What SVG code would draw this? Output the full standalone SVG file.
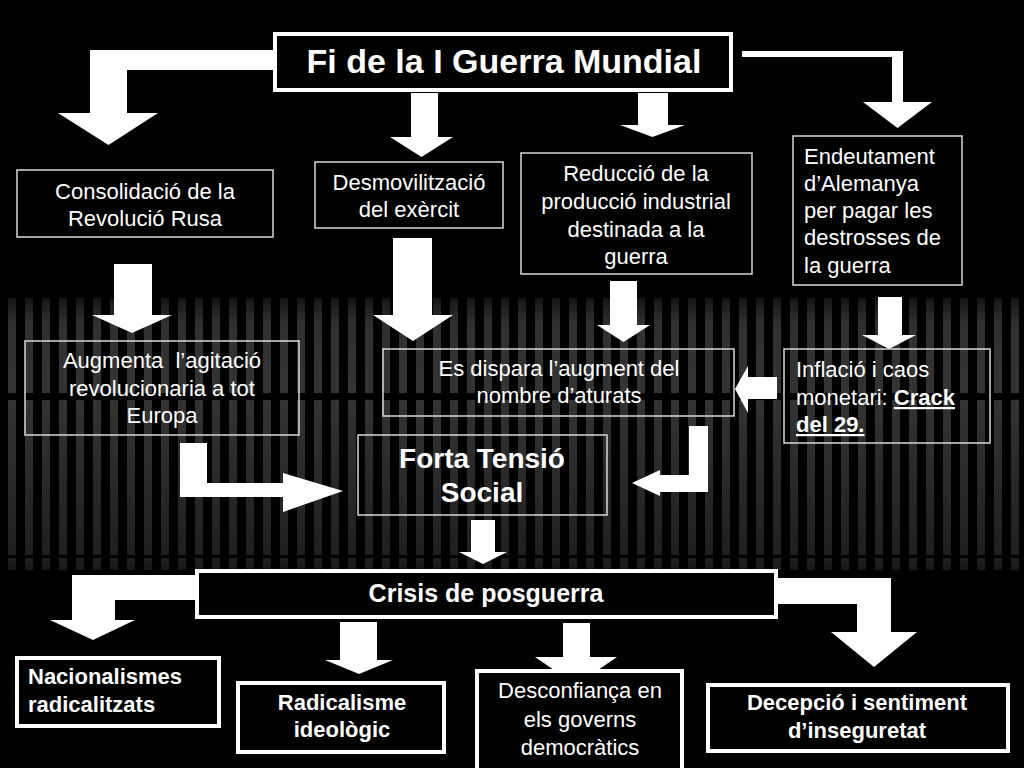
<svg xmlns="http://www.w3.org/2000/svg" width="1024" height="768" viewBox="0 0 1024 768">
<defs>
<linearGradient id="sg" gradientUnits="userSpaceOnUse" x1="0" y1="0" x2="0" y2="768">
<stop offset="0.385" stop-color="#121212"/>
<stop offset="0.42" stop-color="#303030"/>
<stop offset="0.51" stop-color="#343434"/>
<stop offset="0.60" stop-color="#2c2c2c"/>
<stop offset="0.73" stop-color="#1e1e1e"/>
<stop offset="0.745" stop-color="#161616"/>
</linearGradient>
<pattern id="stripes" patternUnits="userSpaceOnUse" x="8" y="0" width="17" height="768">
<rect x="0" y="0" width="8" height="768" fill="url(#sg)"/>
</pattern>
<style>
.arr{fill:#fff}
.thin{fill:none;stroke:#d8d8d8;stroke-width:1.5}
.thick{fill:#000;stroke:#fff;stroke-width:4}
text{font-family:"Liberation Sans",Arial,Helvetica,sans-serif;fill:#fff}
.r{font-size:22px}
.b{font-size:22px;font-weight:bold}
.c{text-anchor:middle}
.u{text-decoration:underline;font-weight:bold}
</style>
</defs>
<rect x="0" y="0" width="1024" height="768" fill="#000"/>
<g id="background">
<rect x="0" y="298" width="1024" height="272" fill="url(#stripes)"/>
<rect x="0" y="393" width="1024" height="7" fill="#000"/>
<rect x="0" y="555" width="1024" height="3" fill="#000"/>
</g>
<g id="connectors">
<polygon class="arr" points="273,50 90,50 90,113 58,113 108.5,145 158,113 127,113 127,70 273,70"/>
<polygon class="arr" points="742,51 903,51 903,102 932,102 897.5,128 863,102 892,102 892,57 742,57"/>
<polygon class="arr" points="411,93 438,93 438,137 453,137 421.5,157 390,137 411,137"/>
<polygon class="arr" points="638,93 668,93 668,125 685,125 652.5,137 620,125 638,125"/>
<polygon class="arr" points="114,264 152,264 152,315 172,315 132,333 92,315 114,315"/>
<polygon class="arr" points="393,238 432,238 432,315 453,315 413,341 373,315 393,315"/>
<polygon class="arr" points="610,281 637,281 637,325 650,325 623.5,342 597,325 610,325"/>
<polygon class="arr" points="878,297 902,297 902,335 916,335 889,349 862,335 878,335"/>
<polygon class="arr" points="777,377 777,399 748,399 748,413 735,389 748,366 748,377"/>
<polygon class="arr" points="689,426 708,426 708,492 660,492 660,496 632,483 660,470 660,475 689,475"/>
<polygon class="arr" points="180,443 207,443 207,483 283,483 283,473 343,491 283,512 283,497 180,497"/>
<polygon class="arr" points="471,520 495,520 495,552 507,552 483,564 459,552 471,552"/>
<polygon class="arr" points="197,575 72,575 72,620 50,620 93,640 135,620 115,620 115,600 197,600"/>
<polygon class="arr" points="776,578 891,578 891,632 917,632 874,667 831,632 857,632 857,604 776,604"/>
<polygon class="arr" points="340,622 377,622 377,660 393,660 359,674 325,660 340,660"/>
<polygon class="arr" points="563,623 590,623 590,657 617,657 576,685 535,657 563,657"/>
</g>
<g id="n-fi">
<rect class="thick" x="275" y="34" width="456" height="56"/>
<text class="c" x="504" y="73" style="font-size:34px;font-weight:bold">Fi de la I Guerra Mundial</text>
</g>
<g id="n-consolidacio">
<rect class="thin" x="17" y="170" width="256" height="67"/>
<text class="r c" x="145" y="199">Consolidació de la</text>
<text class="r c" x="145" y="226">Revolució Rusa</text>
</g>
<g id="n-desmovilitzacio">
<rect class="thin" x="315" y="162" width="188" height="66"/>
<text class="r c" x="409" y="190">Desmovilització</text>
<text class="r c" x="409" y="217">del exèrcit</text>
</g>
<g id="n-reduccio">
<rect class="thin" x="521" y="153" width="231" height="121"/>
<text class="r c" x="636" y="181">Reducció de la</text>
<text class="r c" x="636" y="209">producció industrial</text>
<text class="r c" x="636" y="237">destinada a la</text>
<text class="r c" x="636" y="264">guerra</text>
</g>
<g id="n-endeutament">
<rect class="thin" x="793" y="136" width="169" height="149"/>
<text class="r" x="804" y="164">Endeutament</text>
<text class="r" x="804" y="191">d’Alemanya</text>
<text class="r" x="804" y="218">per pagar les</text>
<text class="r" x="804" y="245">destrosses de</text>
<text class="r" x="804" y="273">la guerra</text>
</g>
<g id="n-augmenta">
<rect class="thin" x="25" y="341" width="274" height="94"/>
<text class="r c" x="162" y="368" xml:space="preserve">Augmenta  l’agitació</text>
<text class="r c" x="162" y="396">revolucionaria a tot</text>
<text class="r c" x="162" y="423">Europa</text>
</g>
<g id="n-dispara">
<rect class="thin" x="383" y="349" width="351" height="67"/>
<text class="r c" x="559" y="376">Es dispara l’augment del</text>
<text class="r c" x="559" y="403">nombre d’aturats</text>
</g>
<g id="n-inflacio">
<rect class="thin" x="784" y="349" width="206" height="94"/>
<text class="r" x="796" y="377">Inflació i caos</text>
<text class="r" x="796" y="405">monetari: <tspan class="u">Crack</tspan></text>
<text class="r" x="796" y="432"><tspan class="u">del 29.</tspan></text>
</g>
<g id="n-forta">
<rect class="thin" x="358" y="435" width="249" height="80"/>
<text class="c" x="482" y="468" style="font-size:28px;font-weight:bold">Forta Tensió</text>
<text class="c" x="482" y="502" style="font-size:28px;font-weight:bold">Social</text>
</g>
<g id="n-crisis">
<rect class="thick" x="197" y="571" width="579" height="46"/>
<text class="c" x="486" y="602" style="font-size:25px;font-weight:bold">Crisis de posguerra</text>
</g>
<g id="n-nacionalismes">
<rect class="thick" x="17" y="658" width="202" height="68"/>
<text class="b" x="28" y="684">Nacionalismes</text>
<text class="b" x="28" y="712">radicalitzats</text>
</g>
<g id="n-radicalisme">
<rect class="thick" x="238" y="683" width="206" height="69"/>
<text class="b c" x="342" y="710">Radicalisme</text>
<text class="b c" x="342" y="737">ideològic</text>
</g>
<g id="n-desconfianca">
<rect class="thick" x="477" y="671" width="205" height="104"/>
<text class="r c" x="580" y="698">Desconfiança en</text>
<text class="r c" x="580" y="727">els governs</text>
<text class="r c" x="580" y="755">democràtics</text>
</g>
<g id="n-decepcio">
<rect class="thick" x="708" y="685" width="300" height="66"/>
<text class="b c" x="857" y="710">Decepció i sentiment</text>
<text class="b c" x="857" y="738">d’inseguretat</text>
</g>
</svg>
